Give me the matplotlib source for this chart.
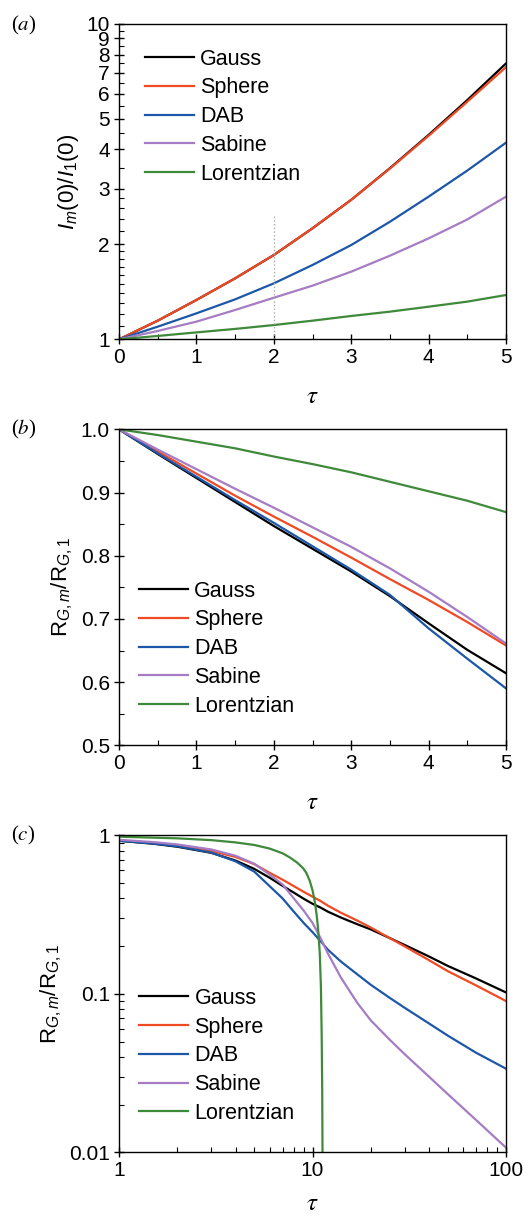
import numpy as np
import matplotlib
matplotlib.use('Agg')
import matplotlib.pyplot as plt
from matplotlib.ticker import FixedLocator, FixedFormatter, MultipleLocator, NullFormatter, FormatStrFormatter

plt.rcParams['font.family'] = ['Liberation Sans', 'DejaVu Sans']
plt.rcParams['mathtext.fontset'] = 'custom'
plt.rcParams['mathtext.rm'] = 'Liberation Sans'
plt.rcParams['mathtext.it'] = 'Liberation Sans:italic'

names = ['Gauss', 'Sphere', 'DAB', 'Sabine', 'Lorentzian']
colors = ['#000000', '#f04a24', '#1d57a8', '#a67cc4', '#3f8a3a']

# panel (a): I_m(0)/I_1(0) vs tau
tau_a = [0, 0.5, 1, 1.5, 2, 2.5, 3, 3.5, 4, 4.5, 5]
gauss_a = [1, 1.146, 1.333, 1.561, 1.851, 2.25, 2.77, 3.49, 4.45, 5.74, 7.5]
sphere_a = [1, 1.146, 1.333, 1.561, 1.851, 2.25, 2.77, 3.48, 4.42, 5.67, 7.3]
dab_a = [1, 1.097, 1.209, 1.339, 1.505, 1.721, 1.991, 2.36, 2.835, 3.43, 4.205]
sabine_a = [1, 1.063, 1.138, 1.239, 1.355, 1.48, 1.639, 1.842, 2.09, 2.40, 2.835]
lor_a = [1, 1.025, 1.052, 1.079, 1.11, 1.146, 1.186, 1.224, 1.269, 1.317, 1.382]
marker_tau = 2
marker_top = 2.5

# panel (b): R_G,m/R_G,1 vs tau (linear)
tau_b = [0, 0.5, 1, 1.5, 2, 2.5, 3, 3.5, 4, 4.5, 5]
gauss_b = [1, 0.961, 0.923, 0.885, 0.847, 0.811, 0.775, 0.736, 0.693, 0.651, 0.614]
sphere_b = [1, 0.965, 0.930, 0.895, 0.862, 0.830, 0.797, 0.763, 0.730, 0.695, 0.658]
dab_b = [1, 0.962, 0.925, 0.888, 0.852, 0.815, 0.778, 0.738, 0.685, 0.637, 0.590]
sabine_b = [1, 0.968, 0.937, 0.906, 0.876, 0.845, 0.814, 0.780, 0.743, 0.703, 0.661]
lor_b = [1, 0.991, 0.9805, 0.970, 0.957, 0.945, 0.932, 0.917, 0.902, 0.887, 0.869]

# panel (c): same ratio on log-log axes
tau_c = [1, 1.5, 2, 3, 4, 5, 6, 7, 8, 9, 10, 11, 12, 14, 17, 20, 25, 30, 40, 50, 70, 100]
gauss_c = [0.923, 0.885, 0.847, 0.775, 0.693, 0.614, 0.54, 0.48, 0.435, 0.398, 0.37, 0.35, 0.33,
           0.303, 0.275, 0.255, 0.225, 0.203, 0.172, 0.15, 0.125, 0.102]
sphere_c = [0.930, 0.895, 0.862, 0.797, 0.730, 0.658, 0.58, 0.525, 0.478, 0.44, 0.41, 0.385, 0.36,
            0.325, 0.29, 0.262, 0.225, 0.199, 0.163, 0.139, 0.113, 0.09]
dab_c = [0.925, 0.888, 0.852, 0.778, 0.685, 0.590, 0.478, 0.40, 0.33, 0.28, 0.245, 0.215, 0.19,
         0.16, 0.133, 0.114, 0.0945, 0.0815, 0.065, 0.0545, 0.0425, 0.0337]
sabine_c = [0.937, 0.906, 0.876, 0.814, 0.743, 0.661, 0.565, 0.49, 0.40, 0.335, 0.28, 0.225, 0.18,
            0.127, 0.088, 0.068, 0.0515, 0.0415, 0.030, 0.0233, 0.016, 0.0107]
tau_lor_c = [1, 2, 3, 4, 5, 6, 7, 7.63, 8.3, 8.94, 9.3, 9.68, 10.0, 10.28, 10.5, 10.69, 10.9,
             11.05, 11.15, 11.22, 11.26]
lor_c = [0.98, 0.957, 0.932, 0.902, 0.869, 0.825, 0.77, 0.725, 0.675, 0.62, 0.578, 0.515, 0.45,
         0.38, 0.315, 0.255, 0.18, 0.11, 0.055, 0.025, 0.01]


def style_ticks(ax):
    ax.tick_params(which='major', direction='inout', length=7, width=1, labelsize=15,
                   top=False, right=False, pad=3)
    ax.tick_params(which='minor', direction='in', length=3.5, width=0.8, top=False, right=False)
    for s in ax.spines.values():
        s.set_linewidth(1.0)


def tau_label(ax, pad=12):
    ax.set_xlabel(r'$\tau$', fontsize=18, math_fontfamily='stix', labelpad=pad)


def add_legend(ax, loc, anchor):
    ax.legend(loc=loc, bbox_to_anchor=anchor, frameon=False, fontsize=15.5,
              handlelength=2.28, handletextpad=0.28, labelspacing=0.36,
              borderaxespad=0, borderpad=0)


def panel_letter(fig, y, letter):
    fig.text(0.02, y, '(' + r'$\mathit{' + letter + '}$' + ')', fontsize=15,
             family='Liberation Serif', math_fontfamily='stix', va='center')


fig = plt.figure(figsize=(5.29, 12.18), dpi=100)
ax1 = fig.add_axes([0.225, 0.7214, 0.7316, 0.2589])
ax2 = fig.add_axes([0.225, 0.3881, 0.7316, 0.2594])
ax3 = fig.add_axes([0.225, 0.0539, 0.7316, 0.2603])

# (a)
for ys, n, c in zip([gauss_a, sphere_a, dab_a, sabine_a, lor_a], names, colors):
    ax1.plot(tau_a, ys, color=c, lw=1.6, label=n)
ax1.plot([marker_tau, marker_tau], [1, marker_top], color='#aaaaaa', lw=1, ls=':')
ax1.set_yscale('log')
ax1.set_xlim(0, 5)
ax1.set_ylim(1, 10)
ax1.xaxis.set_major_locator(MultipleLocator(1))
ax1.xaxis.set_minor_locator(MultipleLocator(0.5))
ax1.yaxis.set_major_locator(FixedLocator(range(1, 11)))
ax1.yaxis.set_major_formatter(FixedFormatter([str(v) for v in range(1, 11)]))
minor_a = list(np.arange(1.1, 1.95, 0.1)) + [2.2, 2.4, 2.6, 2.8] + [3.5, 4.5, 5.5, 6.5, 7.5, 8.5, 9.5]
ax1.yaxis.set_minor_locator(FixedLocator(minor_a))
ax1.yaxis.set_minor_formatter(NullFormatter())
style_ticks(ax1)
ax1.set_ylabel(r'$I_m\mathrm{(0)}/I_\mathrm{1}\mathrm{(0)}$', fontsize=16, labelpad=4)
tau_label(ax1)
add_legend(ax1, 'upper left', (0.067, 0.922))

# (b)
for ys, n, c in zip([gauss_b, sphere_b, dab_b, sabine_b, lor_b], names, colors):
    ax2.plot(tau_b, ys, color=c, lw=1.6, label=n)
ax2.set_xlim(0, 5)
ax2.set_ylim(0.5, 1.0)
ax2.xaxis.set_major_locator(MultipleLocator(1))
ax2.xaxis.set_minor_locator(MultipleLocator(0.5))
ax2.yaxis.set_major_locator(MultipleLocator(0.1))
ax2.yaxis.set_minor_locator(MultipleLocator(0.05))
ax2.yaxis.set_major_formatter(FormatStrFormatter('%.1f'))
style_ticks(ax2)
ax2.set_ylabel(r'$\mathrm{R}_{G,m}/\mathrm{R}_{G,\mathrm{1}}$', fontsize=16, labelpad=4)
tau_label(ax2)
add_legend(ax2, 'lower left', (0.052, 0.091))

# (c)
for ys, n, c in zip([gauss_c, sphere_c, dab_c, sabine_c], names[:4], colors[:4]):
    ax3.plot(tau_c, ys, color=c, lw=1.6, label=n)
ax3.plot(tau_lor_c, lor_c, color=colors[4], lw=1.6, label=names[4])
ax3.set_xscale('log')
ax3.set_yscale('log')
ax3.set_xlim(1, 100)
ax3.set_ylim(0.01, 1)
ax3.xaxis.set_major_locator(FixedLocator([1, 10, 100]))
ax3.xaxis.set_major_formatter(FixedFormatter(['1', '10', '100']))
ax3.yaxis.set_major_locator(FixedLocator([0.01, 0.1, 1]))
ax3.yaxis.set_major_formatter(FixedFormatter(['0.01', '0.1', '1']))
ax3.xaxis.set_minor_formatter(NullFormatter())
ax3.yaxis.set_minor_formatter(NullFormatter())
style_ticks(ax3)
ax3.set_ylabel(r'$\mathrm{R}_{G,m}/\mathrm{R}_{G,\mathrm{1}}$', fontsize=16, labelpad=4)
tau_label(ax3, pad=8)
add_legend(ax3, 'lower left', (0.0525, 0.09))

panel_letter(fig, 1 - 25 / 1218, 'a')
panel_letter(fig, 1 - 429 / 1218, 'b')
panel_letter(fig, 1 - 835 / 1218, 'c')

fig.savefig('out.png', dpi=100)
